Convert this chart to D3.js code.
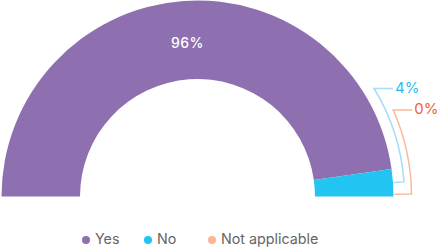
<!DOCTYPE html>
<html lang="en">
  <head>
    <meta charset="UTF-8" />
    <title>Half donut</title>
    <style>
      body { margin: 0; background: #fff; }
      text { font-family: Inter, 'Noto Sans', sans-serif; }
    </style>
  </head>
  <body>
    <script src="https://d3js.org/d3.v7.min.js"></script>
    <script>
      const categories = ['Yes', 'No', 'Not applicable']
      const values = [95.5, 4.5, 0]
      const labels = ['96%', '4%', '0%']
      const colors = ['#8e70b1', '#22c4f1', '#f9b596']
      const labelColors = ['#ffffff', '#2cbcec', '#f26035']
      const bracketColors = [null, '#a6def5', '#f9b99a']

      const width = 443
      const height = 248
      const cx = 197.5
      const cy = 196.5
      const outerR = 196
      const innerR = 117.5

      const svg = d3.select('body').append('svg')
        .attr('width', width).attr('height', height)

      const pie = d3.pie()
        .sort(null)
        .startAngle(-Math.PI / 2)
        .endAngle(Math.PI / 2)

      const arcs = pie(values)
      const arc = d3.arc().innerRadius(innerR).outerRadius(outerR)

      const g = svg.append('g').attr('transform', `translate(${cx},${cy})`)

      g.selectAll('path.slice')
        .data(arcs)
        .enter()
        .append('path')
        .attr('class', 'slice')
        .attr('fill', (d, i) => colors[i])
        .attr('d', arc)

      // big label sits inside the arc
      const mid = d => (d.startAngle + d.endAngle) / 2
      g.append('text')
        .attr('x', arc.centroid(arcs[0])[0] + 1)
        .attr('y', -(innerR + outerR) / 2 + 4)
        .attr('text-anchor', 'middle')
        .attr('dominant-baseline', 'middle')
        .attr('fill', labelColors[0])
        .attr('font-size', 14)
        .attr('font-weight', 500)
        .attr('letter-spacing', 0.5)
        .text(labels[0])

      // brackets + outside labels for the small slices
      arcs.slice(1).forEach((d, k) => {
        const i = k + 1
        const rb = outerR + 11 + k * 7
        // d3 angle: 0 at top, clockwise. convert to math angle from x axis
        const a0 = Math.max(Math.PI / 2 - mid(d), 0.012)
        const topY = -108 + k * 21.5
        const a1 = Math.asin(-topY / rb)
        const pt = (r, a) => [r * Math.cos(a), -r * Math.sin(a)]
        const path = d3.path()
        const p0 = pt(outerR + 1, a0)
        path.moveTo(p0[0], p0[1])
        const p1 = pt(rb, a0)
        path.lineTo(p1[0], p1[1])
        path.arc(0, 0, rb, -a0, -a1, true)
        const p2 = pt(rb, a1)
        path.lineTo(p2[0] + 19, p2[1])
        g.append('path')
          .attr('d', path.toString())
          .attr('fill', 'none')
          .attr('stroke', bracketColors[i])
          .attr('stroke-width', 1.5)
        g.append('text')
          .attr('x', p2[0] + 21)
          .attr('y', p2[1])
          .attr('dominant-baseline', 'middle')
          .attr('fill', labelColors[i])
          .attr('font-size', 15)
          .text(labels[i])
      })

      // legend
      const legendX = [86, 148, 212]
      const legend = svg.append('g')
      categories.forEach((c, i) => {
        legend.append('circle')
          .attr('cx', legendX[i]).attr('cy', 240)
          .attr('r', 4)
          .attr('fill', colors[i])
        legend.append('text')
          .attr('x', legendX[i] + 9).attr('y', 240)
          .attr('dominant-baseline', 'middle')
          .attr('fill', '#666666')
          .attr('font-size', 14.3)
          .text(c)
      })
    </script>
  </body>
</html>
